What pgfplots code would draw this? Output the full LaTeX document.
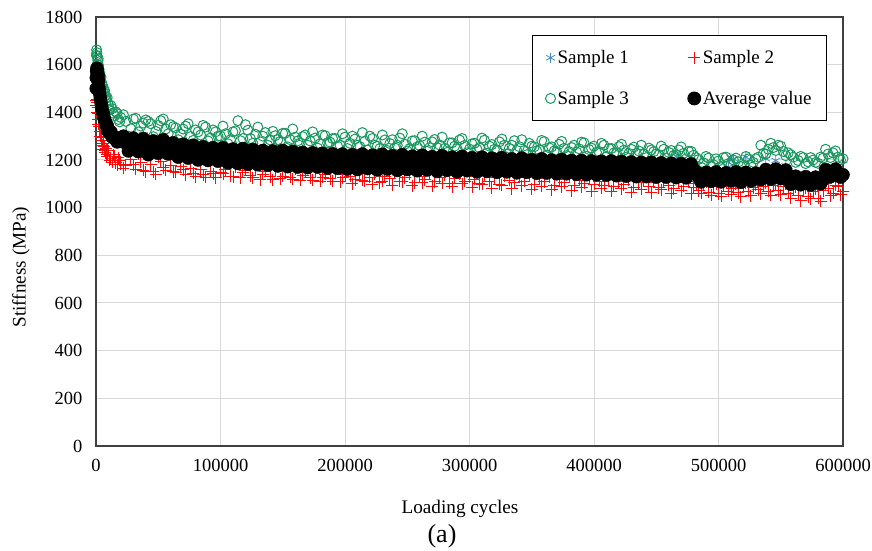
\documentclass[border=0pt]{standalone}
\usepackage{pgfplots}
\usepackage{pgfplotstable}
\pgfplotsset{compat=1.18}
\usepackage{fontspec}
\setmainfont{Liberation Serif}
\definecolor{gridgray}{RGB}{217,217,217}
\definecolor{axisgray}{RGB}{64,64,64}
\definecolor{sblue}{RGB}{68,138,200}
\definecolor{sred}{RGB}{250,10,10}
\definecolor{sgreen}{RGB}{26,152,96}

\pgfplotstableread{
x s1 s2 s3 avg
200 1520 1430 1590 1500
500 1600 1455 1662 1572
1000 1590 1440 1635 1578
1500 1575 1395 1618 1560
2000 1545 1372 1598 1530
3000 1490 1318 1565 1478
4000 1455 1295 1548 1442
5000 1420 1262 1512 1408
6000 1405 1270 1498 1392
7000 1372 1238 1490 1368
8000 1368 1248 1458 1352
9000 1340 1222 1462 1345
10000 1335 1238 1432 1328
12000 1318 1205 1428 1318
14000 1296 1222 1396 1298
16000 1302 1188 1402 1294
18000 1278 1210 1370 1282
20000 1290 1182 1378 1278
24000 1272 1178 1362 1270
28000 1250 1204 1331 1258
32000 1281 1162 1375 1276
36000 1259 1190 1342 1262
40000 1270 1150 1368 1248
44000 1245 1180 1352 1266
48000 1262 1141 1320 1240
52000 1238 1195 1365 1258
56000 1270 1158 1330 1272
60000 1249 1176 1348 1236
64000 1236 1148 1335 1246
68000 1255 1172 1308 1225
72000 1228 1139 1342 1250
76000 1244 1165 1298 1228
80000 1219 1130 1326 1244
84000 1240 1160 1305 1216
88000 1215 1128 1338 1240
92000 1236 1151 1292 1219
96000 1210 1125 1318 1234
100000 1232 1148 1300 1212
104000 1225 1160 1310 1228
108000 1204 1132 1285 1205
112000 1230 1171 1322 1226
116000 1210 1125 1281 1210
120000 1224 1158 1348 1222
124000 1198 1134 1290 1200
128000 1232 1164 1308 1230
132000 1205 1118 1276 1208
136000 1218 1152 1315 1218
140000 1196 1130 1284 1196
144000 1225 1160 1302 1224
148000 1200 1121 1278 1203
152000 1214 1150 1312 1212
156000 1192 1128 1285 1192
160000 1220 1162 1296 1222
164000 1198 1115 1271 1201
168000 1210 1148 1305 1210
172000 1188 1126 1280 1190
176000 1216 1155 1292 1214
180000 1195 1112 1268 1196
184000 1208 1140 1302 1206
188000 1186 1122 1275 1188
192000 1212 1150 1290 1210
196000 1190 1108 1262 1192
200000 1202 1138 1296 1200
204000 1198 1132 1270 1202
208000 1210 1118 1288 1190
212000 1185 1145 1256 1208
216000 1202 1110 1279 1195
220000 1215 1128 1300 1186
224000 1188 1142 1262 1199
228000 1196 1105 1248 1210
232000 1212 1130 1284 1192
236000 1180 1121 1269 1184
240000 1205 1146 1251 1198
244000 1198 1112 1292 1205
248000 1176 1125 1266 1189
252000 1209 1140 1248 1196
256000 1192 1104 1281 1182
260000 1184 1132 1260 1193
264000 1206 1118 1275 1200
268000 1190 1144 1252 1186
272000 1178 1109 1286 1195
276000 1201 1127 1263 1202
280000 1186 1138 1249 1183
284000 1195 1102 1272 1190
288000 1208 1124 1258 1198
292000 1181 1141 1284 1184
296000 1193 1110 1261 1191
300000 1187 1129 1246 1180
304000 1192 1120 1270 1195
308000 1178 1101 1252 1182
312000 1201 1135 1283 1190
316000 1186 1112 1258 1178
320000 1170 1126 1245 1186
324000 1195 1098 1276 1193
328000 1184 1131 1262 1176
332000 1176 1115 1249 1184
336000 1198 1104 1281 1190
340000 1182 1128 1256 1174
344000 1169 1110 1240 1182
348000 1190 1136 1270 1188
352000 1180 1097 1255 1175
356000 1173 1122 1242 1181
360000 1194 1108 1277 1186
364000 1178 1130 1251 1172
368000 1166 1095 1238 1180
372000 1188 1118 1266 1185
376000 1175 1105 1249 1170
380000 1182 1127 1235 1178
384000 1170 1092 1262 1183
388000 1190 1116 1247 1168
392000 1176 1103 1272 1176
396000 1165 1125 1244 1181
400000 1184 1098 1258 1170
404000 1178 1110 1236 1176
408000 1166 1094 1262 1168
412000 1186 1120 1248 1179
416000 1172 1089 1230 1165
420000 1160 1108 1256 1173
424000 1181 1096 1241 1178
428000 1170 1115 1228 1162
432000 1158 1086 1254 1170
436000 1178 1104 1238 1175
440000 1165 1118 1226 1160
444000 1182 1090 1250 1168
448000 1168 1107 1235 1172
452000 1155 1084 1222 1158
456000 1176 1112 1245 1166
460000 1162 1095 1232 1170
464000 1180 1080 1219 1157
468000 1208 1104 1242 1165
472000 1170 1090 1228 1168
476000 1158 1110 1236 1155
480000 1175 1086 1220 1160
484000 1140 1072 1202 1128
488000 1125 1095 1188 1122
492000 1150 1064 1208 1135
496000 1132 1088 1180 1126
500000 1118 1058 1196 1120
504000 1145 1092 1210 1134
508000 1170 1070 1185 1128
512000 1205 1080 1200 1136
516000 1160 1062 1192 1124
520000 1138 1096 1178 1130
524000 1126 1068 1205 1138
528000 1148 1084 1190 1127
532000 1135 1075 1212 1133
536000 1150 1090 1228 1140
540000 1132 1068 1245 1146
544000 1165 1095 1252 1138
548000 1140 1072 1262 1148
552000 1128 1088 1236 1141
556000 1155 1060 1230 1135
560000 1122 1075 1212 1118
564000 1105 1052 1198 1112
568000 1130 1080 1210 1116
572000 1112 1045 1192 1110
576000 1098 1066 1200 1114
580000 1120 1040 1186 1108
584000 1108 1072 1208 1117
588000 1150 1082 1225 1148
592000 1138 1060 1230 1152
596000 1156 1090 1212 1143
600000 1142 1070 1205 1138
}\dataA

\pgfplotstableread{
x s1 s2 s3 avg
250 1560 1448 1640 1545
750 1610 1400 1650 1585
1250 1560 1420 1600 1540
1750 1540 1350 1625 1550
2500 1500 1340 1580 1500
3500 1470 1300 1545 1460
4500 1430 1280 1525 1425
5500 1400 1245 1510 1400
6500 1390 1255 1480 1375
7500 1360 1230 1470 1360
8500 1345 1215 1450 1340
9500 1330 1240 1440 1322
11000 1310 1200 1410 1312
13000 1305 1190 1415 1296
15000 1285 1215 1385 1290
17000 1295 1180 1395 1276
19000 1270 1200 1360 1285
22000 1300 1165 1390 1300
26000 1235 1240 1300 1238
30000 1290 1180 1372 1292
34000 1242 1225 1318 1235
38000 1305 1158 1355 1290
42000 1228 1230 1362 1222
46000 1285 1150 1298 1280
50000 1220 1212 1345 1228
54000 1278 1168 1372 1285
58000 1232 1236 1310 1225
62000 1270 1150 1340 1272
66000 1210 1218 1285 1212
70000 1262 1160 1330 1266
74000 1205 1210 1352 1208
78000 1255 1145 1282 1262
82000 1198 1205 1318 1200
86000 1260 1138 1345 1256
90000 1195 1215 1280 1198
94000 1248 1142 1326 1252
98000 1190 1200 1300 1195
102000 1250 1142 1342 1252
106000 1188 1205 1268 1188
110000 1245 1130 1318 1246
114000 1185 1198 1365 1185
118000 1238 1148 1290 1248
122000 1180 1210 1325 1182
126000 1246 1125 1270 1244
130000 1178 1195 1338 1180
134000 1240 1140 1300 1240
138000 1175 1200 1262 1178
142000 1235 1118 1320 1238
146000 1180 1192 1285 1175
150000 1238 1132 1312 1240
154000 1172 1205 1255 1172
158000 1232 1120 1330 1236
162000 1176 1188 1280 1170
166000 1230 1135 1298 1232
170000 1168 1196 1262 1168
174000 1228 1115 1318 1230
178000 1172 1185 1250 1170
182000 1225 1128 1305 1228
186000 1165 1192 1272 1166
190000 1226 1110 1290 1226
194000 1168 1188 1258 1165
198000 1222 1125 1310 1225
202000 1160 1185 1248 1162
206000 1225 1100 1300 1222
210000 1170 1176 1262 1160
214000 1220 1115 1315 1225
218000 1162 1182 1242 1164
222000 1226 1098 1290 1220
226000 1168 1170 1258 1158
230000 1218 1112 1305 1224
234000 1158 1180 1240 1162
238000 1222 1095 1285 1218
242000 1165 1172 1262 1156
246000 1215 1108 1310 1222
250000 1160 1178 1238 1160
254000 1220 1092 1280 1216
258000 1155 1168 1255 1155
262000 1214 1105 1300 1220
266000 1162 1175 1236 1158
270000 1218 1090 1276 1214
274000 1152 1166 1252 1152
278000 1212 1102 1296 1218
282000 1160 1172 1232 1156
286000 1215 1088 1272 1212
290000 1150 1162 1248 1150
294000 1210 1100 1290 1215
298000 1158 1170 1230 1155
302000 1212 1085 1268 1210
306000 1150 1160 1245 1150
310000 1208 1098 1292 1212
314000 1155 1168 1228 1152
318000 1210 1082 1265 1208
322000 1148 1158 1242 1148
326000 1205 1095 1288 1210
330000 1152 1165 1225 1150
334000 1206 1080 1262 1205
338000 1145 1155 1240 1146
342000 1203 1092 1285 1208
346000 1150 1162 1222 1148
350000 1205 1078 1258 1202
354000 1142 1152 1238 1144
358000 1200 1090 1282 1205
362000 1148 1160 1220 1145
366000 1202 1075 1255 1200
370000 1140 1150 1236 1142
374000 1198 1088 1278 1202
378000 1145 1158 1218 1142
382000 1200 1072 1252 1198
386000 1138 1148 1234 1140
390000 1196 1085 1275 1198
394000 1142 1155 1215 1138
398000 1198 1070 1250 1196
402000 1136 1145 1232 1138
406000 1195 1082 1270 1195
410000 1140 1152 1214 1136
414000 1194 1068 1248 1196
418000 1134 1142 1230 1134
422000 1192 1080 1266 1194
426000 1138 1150 1212 1132
430000 1190 1065 1245 1192
434000 1132 1140 1228 1130
438000 1192 1078 1262 1190
442000 1135 1148 1210 1130
446000 1188 1062 1242 1190
450000 1130 1138 1225 1128
454000 1190 1075 1258 1188
458000 1132 1145 1208 1128
462000 1186 1060 1240 1186
466000 1215 1135 1222 1126
470000 1188 1072 1255 1185
474000 1130 1142 1205 1125
478000 1184 1058 1236 1184
482000 1150 1100 1210 1150
486000 1115 1060 1170 1108
490000 1145 1108 1215 1148
494000 1108 1052 1175 1110
498000 1148 1100 1205 1150
502000 1112 1048 1168 1108
506000 1140 1105 1212 1146
510000 1210 1055 1180 1112
514000 1142 1098 1208 1150
518000 1110 1045 1172 1106
522000 1212 1102 1215 1148
526000 1115 1050 1178 1112
530000 1145 1095 1205 1145
534000 1110 1058 1262 1118
538000 1205 1105 1225 1160
542000 1118 1052 1270 1120
546000 1198 1100 1240 1162
550000 1112 1055 1258 1122
554000 1175 1098 1218 1158
558000 1090 1040 1222 1098
562000 1140 1085 1190 1132
566000 1088 1030 1215 1096
570000 1135 1082 1185 1130
574000 1090 1038 1210 1095
578000 1138 1078 1190 1128
582000 1095 1028 1212 1100
586000 1160 1100 1245 1160
590000 1125 1050 1210 1130
594000 1165 1095 1238 1162
598000 1130 1055 1200 1128
}\dataB

\begin{document}
\begin{tikzpicture}[font=\fontsize{18.5}{22}\selectfont]
\useasboundingbox (-96pt,-105pt) rectangle (776pt,446pt);
\begin{axis}[
  at={(0pt,0pt)}, anchor=south west,
  scale only axis, width=747pt, height=429pt,
  xmin=0, xmax=600000, ymin=0, ymax=1800,
  xtick={0,100000,200000,300000,400000,500000,600000},
  ytick={0,200,400,600,800,1000,1200,1400,1600,1800},
  scaled x ticks=false, scaled y ticks=false,
  /pgf/number format/assume math mode=true,
  /pgf/number format/fixed,
  /pgf/number format/precision=0,
  /pgf/number format/1000 sep={},
  tick label style={font=\fontsize{18.5}{22}\selectfont},
  xticklabel style={yshift=-10pt},
  yticklabel style={xshift=-10pt},
  major tick length=0pt,
  grid=major,
  major grid style={draw=gridgray, line width=1pt},
  axis line style={draw=axisgray, line width=1.2pt},
  clip=false,
  xlabel={Loading cycles},
  ylabel={Stiffness (MPa)},
  label style={font=\fontsize{19.2}{23}\selectfont},
  xlabel style={at={(axis description cs:0.4873,-0.146)}, anchor=center},
  ylabel style={at={(axis description cs:-0.1004,0.417)}, anchor=center},
  legend columns=2,
  legend cell align=left,
  legend style={at={(0.9786,0.958)}, anchor=north east, draw=black, line width=0.8pt,
    fill=white, font=\fontsize{19}{22}\selectfont,
    inner xsep=13pt, inner ysep=13pt, row sep=22pt,
    nodes={inner xsep=2pt},
    /tikz/every even column/.append style={column sep=57pt}},
  legend image code/.code={\draw[#1] plot coordinates {(0pt,0pt)};},
  s1style/.style={only marks, mark=asterisk, mark size=5pt, color=sblue, line width=0.8pt},
  s2style/.style={only marks, mark=+, mark size=6pt, color=sred, line width=0.9pt},
  s3style/.style={only marks, mark=o, mark size=5pt, color=sgreen, line width=1pt},
  avgstyle/.style={only marks, mark=*, mark size=6.5pt, color=black},
]
\addplot[s1style] table[x=x, y=s1] {\dataA};
\addlegendentry{Sample 1}
\addplot[s1style, forget plot] table[x=x, y=s1] {\dataB};
\addplot[s2style] table[x=x, y=s2] {\dataA};
\addlegendentry{Sample 2}
\addplot[s2style, forget plot] table[x=x, y=s2] {\dataB};
\addplot[s3style] table[x=x, y=s3] {\dataA};
\addlegendentry{Sample 3}
\addplot[s3style, forget plot] table[x=x, y=s3] {\dataB};
\addplot[avgstyle] table[x=x, y=avg] {\dataA};
\addlegendentry{Average value}
\addplot[avgstyle, forget plot] table[x=x, y=avg] {\dataB};
\end{axis}
\node[font=\fontsize{26}{30}\selectfont] at (346pt,-90pt) {(a)};
\end{tikzpicture}
\end{document}
